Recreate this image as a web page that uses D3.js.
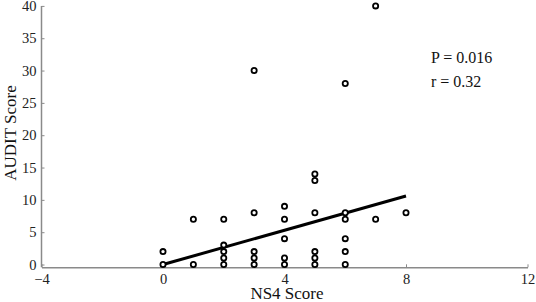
<!DOCTYPE html>
<html>
<head>
<meta charset="utf-8">
<script src="https://cdn.jsdelivr.net/npm/d3@7"></script>
<style>
  body { margin: 0; background: #fff; }
  svg text { font-family: "Liberation Serif", "Times New Roman", serif !important; }
</style>
</head>
<body>
<div id="chart"></div>
<script>
// NS4 score (x) and AUDIT score (y) for each subject
var ns4Scores   = [0, 0, 1, 1, 2, 2, 2, 2, 2, 3, 3, 3, 3, 3, 4, 4, 4, 4, 4, 5, 5, 5, 5, 5, 5, 6, 6, 6, 6, 6, 6, 7, 7, 8];
var auditScores = [0, 2, 0, 7, 0, 1, 2, 3, 7, 0, 1, 2, 8, 30, 0, 1, 4, 7, 9, 0, 1, 2, 8, 13, 14, 0, 2, 4, 7, 8, 28, 7, 40, 8];

// fitted regression line endpoints
var fitX = [0, 8];
var fitY = [0, 10.6];

var xTicks = [-4, 0, 4, 8, 12];
var yTicks = [0, 5, 10, 15, 20, 25, 30, 35, 40];
var statLabels = ["P = 0.016", "r = 0.32"];

drawScatter("#chart");

function drawScatter(sel) {
  var width = 536, height = 302;
  var serif = "Liberation Serif, Times New Roman, serif";
  var svg = d3.select(sel).append("svg")
    .attr("width", width)
    .attr("height", height)
    .attr("font-family", serif);

  var xScale = d3.scaleLinear().domain([-4, 12]).range([41.5, 527.5]);
  var yScale = d3.scaleLinear().domain([-0.43, 40]).range([267.3, 5.9]);

  var axisColor = "#8a8a8a";

  // y axis
  var yAxis = d3.axisRight(yScale).tickValues(yTicks).tickSize(3).tickSizeOuter(0);
  var gy = svg.append("g")
    .attr("transform", "translate(" + xScale(-4) + ",0)")
    .call(yAxis)
    .attr("font-family", serif);
  gy.select(".domain").attr("stroke", axisColor).attr("stroke-width", 1.5)
    .attr("d", "M0," + yScale(40) + "V" + yScale(-0.43));
  gy.selectAll(".tick line").attr("stroke", axisColor);
  gy.selectAll(".tick text")
    .attr("x", -5)
    .attr("text-anchor", "end")
    .attr("font-size", 14.5)
    .attr("fill", "#222");

  // x axis
  var xAxis = d3.axisTop(xScale).tickValues(xTicks).tickSize(3).tickSizeOuter(0);
  var gx = svg.append("g")
    .attr("transform", "translate(0," + yScale(-0.43) + ")")
    .call(xAxis)
    .attr("font-family", serif);
  gx.select(".domain").attr("stroke", axisColor).attr("stroke-width", 1.5);
  gx.selectAll(".tick line").attr("stroke", axisColor);
  gx.selectAll(".tick text")
    .attr("y", 17)
    .attr("font-size", 14.5)
    .attr("fill", "#222");

  // regression line
  svg.append("line")
    .attr("x1", xScale(fitX[0])).attr("y1", yScale(fitY[0]))
    .attr("x2", xScale(fitX[1])).attr("y2", yScale(fitY[1]))
    .attr("stroke", "#000")
    .attr("stroke-width", 3);

  // data points
  svg.selectAll(".pt")
    .data(ns4Scores)
    .enter()
    .append("circle")
    .attr("class", "pt")
    .attr("cx", function(d) { return xScale(d); })
    .attr("cy", function(d, i) { return yScale(auditScores[i]); })
    .attr("r", 2.6)
    .attr("fill", "#fff")
    .attr("stroke", "#000")
    .attr("stroke-width", 1.8);

  // stats
  svg.selectAll(".stat")
    .data(statLabels)
    .enter()
    .append("text")
    .attr("class", "stat")
    .attr("x", 431)
    .attr("y", function(d, i) { return 63 + i * 24; })
    .attr("font-size", 16)
    .attr("fill", "#111")
    .text(function(d) { return d; });

  // axis titles
  svg.append("text")
    .attr("x", 287)
    .attr("y", 299)
    .attr("text-anchor", "middle")
    .attr("font-size", 17)
    .attr("fill", "#111")
    .text("NS4 Score");

  svg.append("text")
    .attr("transform", "translate(15.5,133) rotate(-90)")
    .attr("text-anchor", "middle")
    .attr("font-size", 17)
    .attr("fill", "#111")
    .text("AUDIT Score");
}
</script>
</body>
</html>
